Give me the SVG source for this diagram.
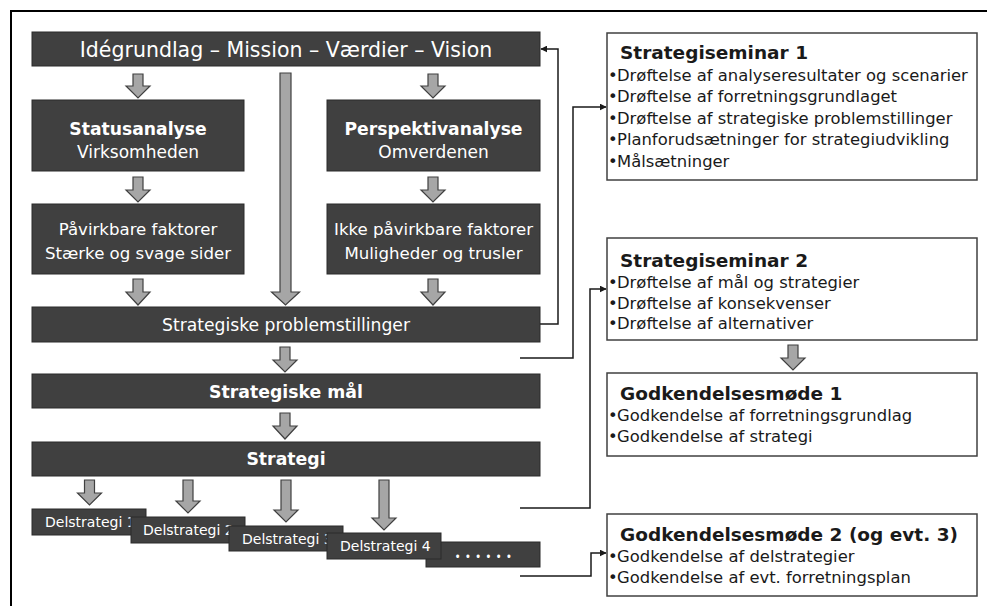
<svg xmlns="http://www.w3.org/2000/svg" width="987" height="606" viewBox="0 0 987 606">
<defs>
<style>
.dk{fill:#404040;stroke:#2a2a2a;stroke-width:1}
.wb{fill:#ffffff;stroke:#404040;stroke-width:1.5}
.ga{fill:#a6a6a6;stroke:#404040;stroke-width:1.2;stroke-linejoin:miter}
.con{fill:none;stroke:#1a1a1a;stroke-width:1.5}
.wt{fill:#ffffff;font-family:"DejaVu Sans","Open Sans","Liberation Sans",sans-serif}
.bt{fill:#1a1a1a;font-family:"DejaVu Sans","Open Sans","Liberation Sans",sans-serif}
.c{text-anchor:middle}
.b{font-weight:bold}
.hd{font-size:18.5px;font-weight:bold}
.bl{font-size:16.4px}
.ds{font-size:14px}
</style>
<marker id="ah" viewBox="0 0 10 10" refX="9" refY="5" markerWidth="7" markerHeight="7" markerUnits="userSpaceOnUse" orient="auto">
<path d="M0,0 L10,5 L0,10 Z" fill="#1a1a1a"/>
</marker>
</defs>
<rect width="987" height="606" fill="#ffffff"/>
<g id="frame">
<path d="M11,606 V11 H987" fill="none" stroke="#000" stroke-width="2"/>
</g>
<g id="connectors">
<path class="con" d="M540,324 H558 V49 H541" marker-end="url(#ah)"/>
<path class="con" d="M520,358 H573 V107 H606" marker-end="url(#ah)"/>
<path class="con" d="M520,508 H590 V289 H606" marker-end="url(#ah)"/>
<path class="con" d="M520,576 H591 V553 H606" marker-end="url(#ah)"/>
</g>
<g id="block-arrows">
<path class="ga" d="M133,74 H143 V86 H150 L138,98 L126,86 H133 Z"/>
<path class="ga" d="M428,74 H438 V86 H445 L433,98 L421,86 H428 Z"/>
<path class="ga" d="M280,73 H291 V292 H299.5 L285.5,305 L271.5,292 H280 Z"/>
<path class="ga" d="M133,177 H143 V190 H150 L138,202 L126,190 H133 Z"/>
<path class="ga" d="M428,177 H438 V190 H445 L433,202 L421,190 H428 Z"/>
<path class="ga" d="M133,279 H143 V292 H150 L138,305 L126,292 H133 Z"/>
<path class="ga" d="M428,279 H438 V292 H445 L433,305 L421,292 H428 Z"/>
<path class="ga" d="M280,347 H290 V360 H297 L285,372 L273,360 H280 Z"/>
<path class="ga" d="M280,413 H290 V426 H297 L285,439 L273,426 H280 Z"/>
<path class="ga" d="M84.5,480 H94.5 V493 H101.5 L89.5,505 L77.5,493 H84.5 Z"/>
<path class="ga" d="M183,480 H193 V501 H200 L188,513 L176,501 H183 Z"/>
<path class="ga" d="M281,480 H291 V510 H298 L286,522 L274,510 H281 Z"/>
<path class="ga" d="M379,480 H389 V518 H396 L384,530 L372,518 H379 Z"/>
<path class="ga" d="M788,345 H798 V358 H805 L793,370 L781,358 H788 Z"/>
</g>
<g id="n-vision">
<rect class="dk" x="32" y="32" width="508" height="34"/>
<text class="wt c" x="286" y="56.5" font-size="20.5">Idégrundlag – Mission – Værdier – Vision</text>
</g>
<g id="n-status">
<rect class="dk" x="32" y="100" width="212" height="71"/>
<text class="wt c b" x="138" y="135" font-size="17.2">Statusanalyse</text>
<text class="wt c" x="138" y="158" font-size="17">Virksomheden</text>
</g>
<g id="n-perspektiv">
<rect class="dk" x="327" y="100" width="213" height="71"/>
<text class="wt c b" x="433.5" y="135" font-size="17.2">Perspektivanalyse</text>
<text class="wt c" x="433.5" y="158" font-size="17">Omverdenen</text>
</g>
<g id="n-paavirkbare">
<rect class="dk" x="32" y="204" width="212" height="70"/>
<text class="wt c" x="138" y="235" font-size="16.6">Påvirkbare faktorer</text>
<text class="wt c" x="138" y="259" font-size="16.6">Stærke og svage sider</text>
</g>
<g id="n-ikke-paavirkbare">
<rect class="dk" x="327" y="204" width="213" height="70"/>
<text class="wt c" x="433.5" y="235" font-size="16.6">Ikke påvirkbare faktorer</text>
<text class="wt c" x="433.5" y="259" font-size="16.6">Muligheder og trusler</text>
</g>
<g id="n-problemstillinger">
<rect class="dk" x="32" y="307" width="508" height="35"/>
<text class="wt c" x="286" y="330.5" font-size="17.2">Strategiske problemstillinger</text>
</g>
<g id="n-maal">
<rect class="dk" x="32" y="374" width="508" height="34"/>
<text class="wt c b" x="286" y="397.5" font-size="17.3">Strategiske mål</text>
</g>
<g id="n-strategi">
<rect class="dk" x="32" y="442" width="508" height="34"/>
<text class="wt c b" x="286" y="465" font-size="17.3">Strategi</text>
</g>
<g id="n-delstrategi1">
<rect class="dk" x="32" y="509" width="114" height="26"/>
<text class="wt ds" x="45" y="527">Delstrategi 1</text>
</g>
<g id="n-delstrategi2">
<rect class="dk" x="131" y="517" width="114" height="26"/>
<text class="wt ds" x="143" y="535">Delstrategi 2</text>
</g>
<g id="n-delstrategi3">
<rect class="dk" x="229" y="526" width="114" height="25"/>
<text class="wt ds" x="242" y="544">Delstrategi 3</text>
</g>
<g id="n-dots">
<rect class="dk" x="426" y="542" width="114" height="25"/>
<text x="455" y="562" font-size="14" letter-spacing="5" fill="#ffffff" font-family="'Open Sans',sans-serif">••••••</text>
</g>
<g id="n-delstrategi4">
<rect class="dk" x="327" y="533" width="114" height="26"/>
<text class="wt ds" x="340" y="551">Delstrategi 4</text>
</g>
<g id="n-seminar1">
<rect class="wb" x="607" y="33" width="370" height="147"/>
<text class="bt hd" x="620" y="59">Strategiseminar 1</text>
<text class="bt bl" x="608" y="80.5">•<tspan x="617">Drøftelse af analyseresultater og scenarier</tspan></text>
<text class="bt bl" x="608" y="102">•<tspan x="617">Drøftelse af forretningsgrundlaget</tspan></text>
<text class="bt bl" x="608" y="123.5">•<tspan x="617">Drøftelse af strategiske problemstillinger</tspan></text>
<text class="bt bl" x="608" y="145">•<tspan x="617">Planforudsætninger for strategiudvikling</tspan></text>
<text class="bt bl" x="608" y="166.5">•<tspan x="617">Målsætninger</tspan></text>
</g>
<g id="n-seminar2">
<rect class="wb" x="607" y="238" width="370" height="102"/>
<text class="bt hd" x="620" y="267">Strategiseminar 2</text>
<text class="bt bl" x="608" y="288">•<tspan x="617">Drøftelse af mål og strategier</tspan></text>
<text class="bt bl" x="608" y="308.5">•<tspan x="617">Drøftelse af konsekvenser</tspan></text>
<text class="bt bl" x="608" y="329">•<tspan x="617">Drøftelse af alternativer</tspan></text>
</g>
<g id="n-godk1">
<rect class="wb" x="607" y="373" width="370" height="83"/>
<text class="bt hd" x="620" y="400">Godkendelsesmøde 1</text>
<text class="bt bl" x="608" y="421">•<tspan x="617">Godkendelse af forretningsgrundlag</tspan></text>
<text class="bt bl" x="608" y="442">•<tspan x="617">Godkendelse af strategi</tspan></text>
</g>
<g id="n-godk2">
<rect class="wb" x="607" y="514" width="370" height="82"/>
<text class="bt hd" x="620" y="541">Godkendelsesmøde 2 (og evt. 3)</text>
<text class="bt bl" x="608" y="562">•<tspan x="617">Godkendelse af delstrategier</tspan></text>
<text class="bt bl" x="608" y="583">•<tspan x="617">Godkendelse af evt. forretningsplan</tspan></text>
</g>
</svg>
